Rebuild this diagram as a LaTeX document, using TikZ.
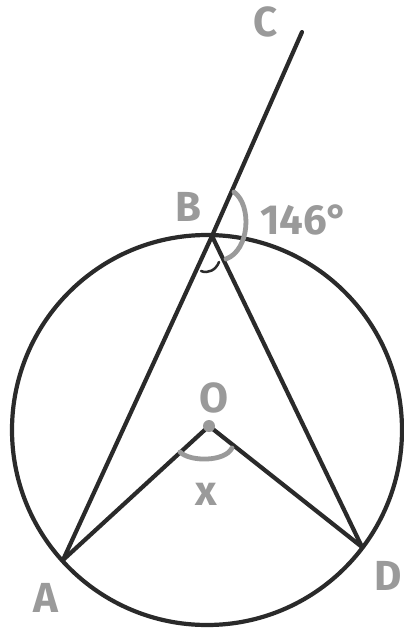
\documentclass[tikz,border=0pt]{standalone}
\usepackage{fontspec}
\setmainfont{Fira Sans}
\definecolor{lbl}{HTML}{9A9A9A}
\definecolor{ink}{HTML}{2A2A2A}
\begin{document}
\begin{tikzpicture}[x=1pt,y=-1pt,
  edge/.style={draw=ink,line width=4.2pt,line cap=round},
  anglemark/.style={draw=lbl,line width=4.8pt,line cap=round},
  lab/.style={text=lbl,font=\fontsize{42}{42}\selectfont\bfseries,inner sep=0pt}]
\useasboundingbox[fill=white] (0,0) rectangle (404,630);
\coordinate (Oc) at (207,430);
\coordinate (B) at (212,236);
\coordinate (C) at (302,32);
\coordinate (A) at (63,560);
\coordinate (D) at (362,547);
\coordinate (O) at (209,426);
\draw[edge] (Oc) circle[radius=195];
\draw[edge] (A) -- (B) -- (C);
\draw[edge] (B) -- (D);
\draw[edge] (A) -- (O) -- (D);
% angle marks
\draw[anglemark] (234,192) .. controls (252,205) and (250,250) .. (226,259);
\draw[draw=ink,line width=2.5pt,line cap=round] (201,271) .. controls (208,274) and (216,270) .. (219,262);
\draw[anglemark] (180,452) .. controls (190,462) and (225,462) .. (232,448);
\fill[lbl] (O) circle[radius=6];
% labels
\node[lab] (lC) at (266,22) {C};
\node[lab] (lB) at (188,207) {B};
\node[lab,anchor=west] (lang) at (260,220) {146°};
\node[lab] (lO) at (214,398) {O};
\node[lab] (lx) at (206,494) {x};
\node[lab] (lA) at (46,598) {A};
\node[lab] (lD) at (388,576) {D};
\end{tikzpicture}
\end{document}
